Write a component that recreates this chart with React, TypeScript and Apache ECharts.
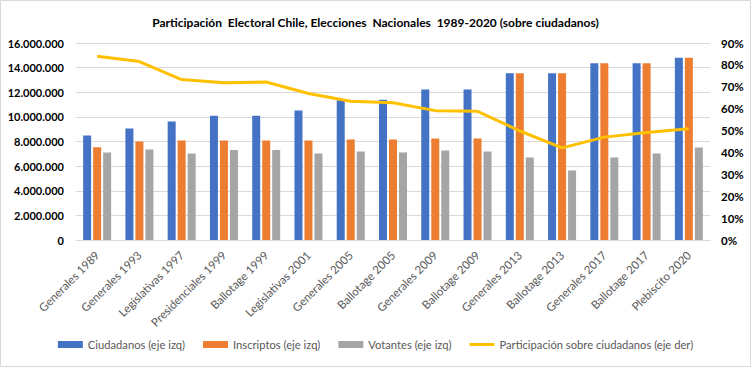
import React, { useEffect, useRef } from "react";
import * as echarts from "echarts";

const categories = [
  "Generales 1989",
  "Generales 1993",
  "Legislativas 1997",
  "Presidenciales 1999",
  "Ballotage 1999",
  "Legislativas 2001",
  "Generales 2005",
  "Ballotage 2005",
  "Generales 2009",
  "Ballotage 2009",
  "Generales 2013",
  "Ballotage 2013",
  "Generales 2017",
  "Ballotage 2017",
  "Plebiscito 2020",
];

const ciudadanos = [
  8490000, 9050000, 9620000, 10100000, 10100000, 10510000, 11350000, 11400000,
  12220000, 12220000, 13540000, 13540000, 14350000, 14350000, 14810000,
];
const inscriptos = [
  7540000, 8000000, 8080000, 8080000, 8080000, 8080000, 8160000, 8160000,
  8240000, 8240000, 13540000, 13540000, 14350000, 14350000, 14810000,
];
const votantes = [
  7110000, 7350000, 7030000, 7300000, 7300000, 7030000, 7190000, 7110000,
  7270000, 7190000, 6700000, 5650000, 6700000, 7030000, 7510000,
];
const participacion = [
  83.9, 81.5, 73.3, 71.8, 72.2, 66.9, 63.4, 62.7, 59.1, 58.8, 49.8, 42.1, 47.0,
  49.1, 50.8,
];

const leftTicks = { min: 0, max: 16000000, interval: 2000000 };
const rightTicks = { min: 0, max: 90, interval: 10 };

const names = [
  "Ciudadanos (eje izq)",
  "Inscriptos (eje izq)",
  "Votantes (eje izq)",
  "Participación sobre ciudadanos (eje der)",
];

const FONT = "Lato";

function fmt(v: number): string {
  return String(Math.round(v)).replace(/\B(?=(\d{3})+(?!\d))/g, ".");
}

export default function App() {
  const ref = useRef<HTMLDivElement>(null);
  useEffect(() => {
    if (!ref.current) return;
    const chart = echarts.init(ref.current, undefined, { renderer: "svg" });
    const barCommon = {
      type: "bar" as const,
      barWidth: 8,
      barGap: "25%",
      yAxisIndex: 0,
    };
    chart.setOption({
      animation: false,
      backgroundColor: "#ffffff",
      textStyle: { fontFamily: FONT },
      title: {
        text: "Participación  Electoral Chile, Elecciones  Nacionales  1989-2020 (sobre ciudadanos)",
        left: "center",
        top: 11,
        textStyle: {
          fontFamily: FONT,
          fontSize: 12,
          fontWeight: "bold",
          color: "#000000",
        },
      },
      graphic: [
        {
          type: "rect",
          shape: { x: 0.5, y: 0.5, width: 750, height: 366 },
          style: { fill: "none", stroke: "#d9d9d9", lineWidth: 1 },
          silent: true,
        },
      ],
      legend: {
        bottom: 12,
        left: "center",
        itemWidth: 25,
        itemHeight: 7,
        itemGap: 18,
        textStyle: { fontFamily: FONT, fontSize: 11.2, color: "#595959" },
        data: [
          { name: names[0], icon: "rect" },
          { name: names[1], icon: "rect" },
          { name: names[2], icon: "rect" },
          { name: names[3], icon: "path://M0,0 L25,0 L25,3 L0,3 Z" },
        ],
      },
      grid: { left: 76, right: 41, top: 43, bottom: 127, containLabel: false },
      xAxis: {
        type: "category",
        data: categories,
        axisLine: { lineStyle: { color: "#d9d9d9" } },
        axisTick: { show: false },
        axisLabel: {
          rotate: 45,
          interval: 0,
          margin: 13,
          fontFamily: FONT,
          fontSize: 11.5,
          color: "#595959",
        },
      },
      yAxis: [
        {
          type: "value",
          ...leftTicks,
          axisLine: { show: false },
          axisTick: { show: false },
          splitLine: { lineStyle: { color: "#d9d9d9" } },
          axisLabel: {
            formatter: (v: number) => fmt(v),
            fontFamily: FONT,
            fontSize: 11,
            fontWeight: "bold",
            color: "#000000",
            margin: 12,
          },
        },
        {
          type: "value",
          ...rightTicks,
          position: "right",
          axisLine: { show: false },
          axisTick: { show: false },
          splitLine: { show: false },
          axisLabel: {
            formatter: "{value}%",
            fontFamily: FONT,
            fontSize: 11.5,
            fontWeight: "bold",
            color: "#000000",
            margin: 11,
          },
        },
      ],
      series: [
        { ...barCommon, name: names[0], data: ciudadanos, itemStyle: { color: "#4472C4" } },
        { ...barCommon, name: names[1], data: inscriptos, itemStyle: { color: "#ED7D31" } },
        { ...barCommon, name: names[2], data: votantes, itemStyle: { color: "#A5A5A5" } },
        {
          type: "line",
          name: names[3],
          yAxisIndex: 1,
          data: participacion,
          symbol: "none",
          lineStyle: { color: "#FFC000", width: 3 },
          itemStyle: { color: "#FFC000" },
          z: 5,
        },
      ],
    });
    return () => chart.dispose();
  }, []);
  return (
    <div
      ref={ref}
      style={{ position: "fixed", left: 0, top: 0, width: 751, height: 367 }}
    />
  );
}
